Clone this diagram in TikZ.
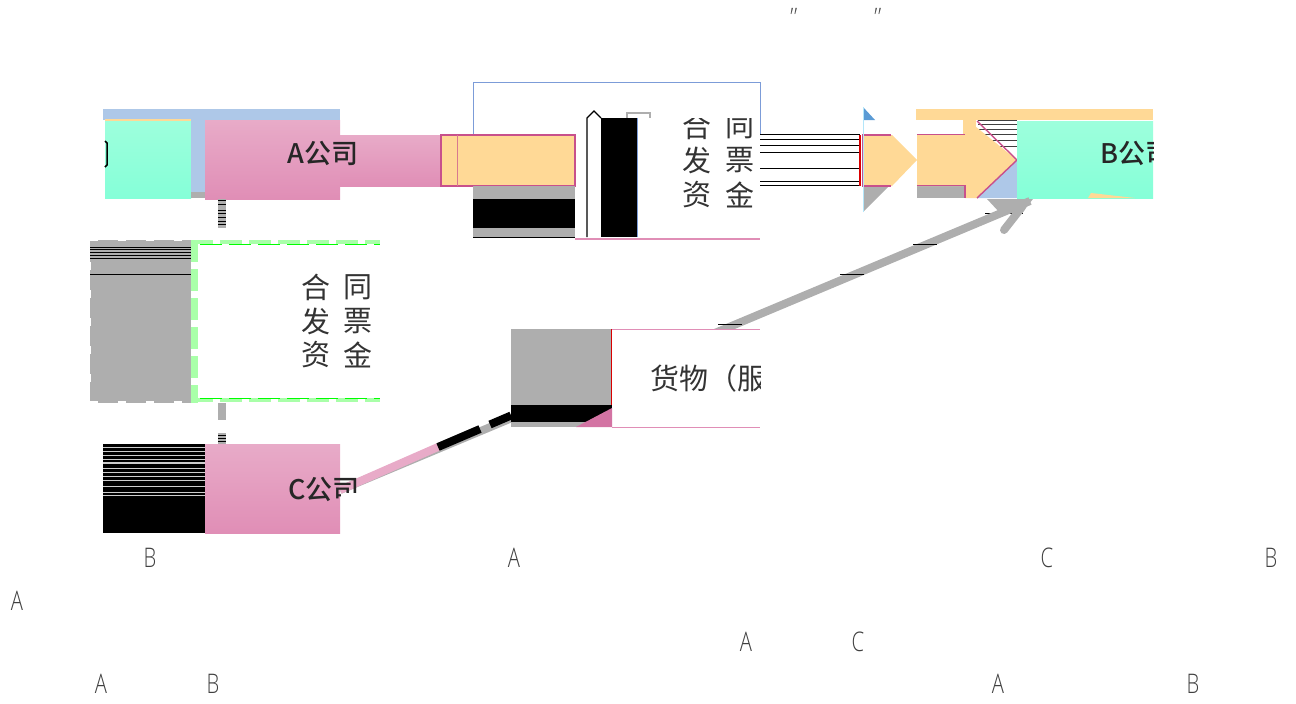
\documentclass[tikz,border=0pt]{standalone}
\usepackage{fontspec}
\setmainfont{Noto Sans CJK SC}
\newfontfamily\latinthin{Open Sans Light}
\newfontfamily\cnmedium{Noto Sans CJK SC Medium}
\definecolor{barblue}{HTML}{AEC8E8}
\definecolor{lineblue}{HTML}{7C9CD8}
\definecolor{tipblue}{HTML}{5B9BD5}
\definecolor{boxgreen}{HTML}{8CFFD6}
\definecolor{boxorange}{HTML}{FFD996}
\definecolor{pinktop}{HTML}{E8ABC8}
\definecolor{pinkbottom}{HTML}{E08EB6}
\definecolor{edgepink}{HTML}{C8508C}
\definecolor{linegrey}{HTML}{AEAEAE}
\definecolor{dashgreen}{HTML}{A9FFA9}
\tikzset{
    cnlabel/.style={font=\fontsize{29}{29}\selectfont, text=black!80, inner sep=0pt},
    cmplabel/.style={font=\cnmedium\fontsize{27}{27}\selectfont, text=black!85, inner sep=0pt},
    letter/.style={font=\latinthin\fontsize{27}{27}\selectfont, text=black!75, inner sep=0pt, xscale=.75},
    quotemark/.style={font=\latinthin\itshape\fontsize{24}{24}\selectfont, text=black!70, inner sep=0pt},
    pinkbox/.style={top color=pinktop, bottom color=pinkbottom, draw=none},
    greenbox/.style={top color=boxgreen!85!white, bottom color=boxgreen!95!cyan, draw=none}
}
\begin{document}
\begin{tikzpicture}[x=1pt,y=-1pt]
    \useasboundingbox (0,0) rectangle (1296,704);

    % company A
    \fill[barblue] (103,109) rectangle (340,120);
    \fill[boxorange] (105,119) rectangle (191,121);
    \fill[greenbox] (105,121) rectangle (191,198);
    \fill[barblue] (191,120) rectangle (205,198);
    \fill[linegrey] (191,192) rectangle (205,198);
    \fill[pinkbox] (205,120) rectangle (340,199);
    \fill[pinkbox] (340,135) rectangle (441,186);
    \node[cmplabel] (acompany) at (323,153) {A公司};
    \draw[black, line width=1.5pt] (105,141) -- (107,143) -- (107,165) -- (105,167);

    % arrow to the contract box
    \draw[lineblue, line width=1pt] (473,135) -- (473,82) -- (760,82) -- (760,135);
    \fill[boxorange, draw=edgepink, line width=1.2pt] (441,135) rectangle (575,186);
    \draw[edgepink!70!boxorange] (457,135) -- (457,186);
    \fill[linegrey] (473,186) rectangle (575,237);
    \fill[black] (473,199) rectangle (575,228);
    \draw[black, line width=1pt] (473,237.5) -- (575,237.5);

    % contract box
    \draw[pinkbottom, line width=1.2pt] (575,239) -- (760,239);
    \draw[black, line width=1.2pt] (587,237) -- (587,118) -- (594,111) -- (601,118);
    \fill[black] (601,118) rectangle (637,237);
    \draw[lineblue, line width=1pt] (637.5,118) -- (637.5,237);
    \draw[linegrey, line width=1.2pt] (627,118) -- (627,113) -- (650,113) -- (650,118);
    \begin{scope}
        \clip (660,118) rectangle (760,239);
        \node[cnlabel] (top1) at (697,126) {合};
        \node[cnlabel] (top2) at (740,126) {同};
        \node[cnlabel] (top3) at (697,160) {发};
        \node[cnlabel] (top4) at (740,160) {票};
        \node[cnlabel] (top5) at (697,195) {资};
        \node[cnlabel] (top6) at (740,195) {金};
    \end{scope}
    \foreach \y/\w in {134/.8,139/1,145/.6,152/.5,168/.7,181/1,185/.7}
        \draw[black, line width=\w pt] (760,\y) -- (860,\y);
    \draw[red!85!black, line width=1.5pt] (860,135) -- (860,186);

    % arrow head, white gap and company B
    \fill[boxorange] (863,135) -- (892,135) -- (917,160) -- (892,186) -- (863,186) -- cycle;
    \draw[edgepink, line width=1.2pt] (891,135) -- (863,135) -- (863,186) -- (891,186);
    \fill[tipblue] (863,107) -- (875,120) -- (863,120) -- cycle;
    \fill[linegrey] (863,187) -- (888,187) -- (863,212) -- cycle;
    \draw[cyan!30!white] (863.5,107) -- (863.5,212);
    \fill[boxorange] (916,109) rectangle (1153,120);
    \fill[linegrey] (917,186) rectangle (965,198);
    \fill[boxorange] (963,118) rectangle (976,134);
    \fill[barblue] (977,198) -- (1017,160) -- (1017,198) -- cycle;
    \foreach \y in {120,124,129,134,140,146}
        \draw[black!75, line width=.8pt] (978,\y) -- (1017,\y);
    \fill[boxorange] (917,134) -- (965,134) -- (965,118) -- (1017,160) -- (977,198) -- (965,198) -- (965,186) -- (917,186) -- cycle;
    \draw[edgepink, line width=1.4pt] (917,134.5) -- (965,134.5);
    \draw[edgepink, line width=1.4pt] (917,185.5) -- (965,185.5) -- (965,198);
    \draw[edgepink, line width=1.4pt] (977,121) -- (1017,160) -- (977,198);
    \fill[greenbox] (1017,121) rectangle (1153,198);
    \fill[boxorange] (1088,198) -- (1091,193) -- (1135,198) -- cycle;
    \begin{scope}
        \clip (1017,121) rectangle (1153,198);
        \node[cmplabel] (bcompany) at (1136,153) {B公司};
    \end{scope}
    \coordinate (btip) at (1030,201);
    \coordinate (bhook) at (1004,230);
    \coordinate (cstart) at (340,490);

    % dashed contract box
    \fill[linegrey] (90,240) rectangle (191,403);
    \foreach \y in {247,249,252,255,258,274}
        \draw[black, line width=.6pt] (90,\y) -- (191,\y);
    \draw[white, line width=2.5pt, dash pattern=on 8pt off 20pt] (90,240) -- (191,240);
    \draw[white, line width=2.5pt, dash pattern=on 8pt off 20pt] (90,402.5) -- (191,402.5);
    \draw[white, line width=2.5pt, dash pattern=on 8pt off 20pt] (90,262) -- (90,403);
    \draw[dashgreen, line width=7pt, dash pattern=on 22pt off 7pt] (194.5,240) -- (194.5,403);
    \draw[dashgreen, line width=4pt, dash pattern=on 22pt off 7pt] (191,242) -- (380,242);
    \draw[dashgreen, line width=4pt, dash pattern=on 22pt off 7pt] (191,400) -- (380,400);
    \draw[green, line width=1pt, dash pattern=on 22pt off 7pt] (200,244) -- (380,244);
    \draw[green, line width=1pt, dash pattern=on 22pt off 7pt] (200,398) -- (380,398);
    \node[cnlabel] (mid1) at (316,287) {合};
    \node[cnlabel] (mid2) at (358,287) {同};
    \node[cnlabel] (mid3) at (316,321) {发};
    \node[cnlabel] (mid4) at (358,321) {票};
    \node[cnlabel] (mid5) at (316,355) {资};
    \node[cnlabel] (mid6) at (358,355) {金};

    % company C
    \fill[black] (103,444) rectangle (205,533);
    \foreach \y/\w in {447/1,451/1,455/1,459/1,463/1.2,468/1,472/1,476/1,480/1,486/1,492/1,495/.8}
        \draw[linegrey!60!white, line width=\w pt] (103,\y) -- (205,\y);
    \fill[pinkbox] (205,444) rectangle (340,533);

    % grey link A - dashed box - C
    \fill[linegrey] (218,199) rectangle (226,228);
    \fill[linegrey] (218,403) rectangle (226,420);
    \fill[linegrey] (218,433) rectangle (226,444);
    \foreach \y in {200,204,210,213,217,221,224,435,438,441}
        \draw[black, line width=.8pt] (218,\y) -- (226,\y);

    % long arrow C to B
    \fill[linegrey] (987,199) -- (1033,199) -- (1022,213) -- (1000,213) -- cycle;
    \draw[black, line width=1pt] (985,213) -- (1023,213);
    \draw[linegrey, line width=8pt, line cap=round] (bhook) -- (1022,207);
    \draw[linegrey, line width=8pt] (cstart) -- (btip);
    \draw[pinktop, line width=8pt] (cstart) -- (438,447);
    \draw[black, line width=8pt] (438,447) -- (480,429);
    \draw[black, line width=8pt] (490,424.5) -- (511,415.5);
    \begin{scope}
        \clip (205,444) rectangle (340,533) (340,470) rectangle (358,492);
        \node[cmplabel] (ccompany) at (324,489) {C公司};
    \end{scope}

    % goods box
    \fill[white] (612,329) rectangle (760,427);
    \draw[pinkbottom, line width=1pt] (612,329) -- (760,329);
    \draw[pinkbottom, line width=1pt] (612,427) -- (760,427);
    \fill[linegrey] (511,329) rectangle (612,427);
    \fill[black] (511,405) rectangle (612,422);
    \fill[edgepink!80!white] (576,427) -- (612,408) -- (612,427) -- cycle;
    \draw[red!85!black, line width=.8pt] (611.5,329) -- (611.5,405);
    \begin{scope}
        \clip (612,329) rectangle (760,427);
        \node[cnlabel, anchor=west] (goods) at (650,378) {货物（服};
    \end{scope}
    \foreach \x/\y in {730/324,925/244,852/274}
        \draw[black, line width=1pt] (\x-12,\y) -- (\x+12,\y);

    % stray letters
    \node[letter] (l1) at (150,558) {B};
    \node[letter] (l2) at (514,558) {A};
    \node[letter] (l3) at (1047,558) {C};
    \node[letter] (l4) at (1271,558) {B};
    \node[letter] (l5) at (17,601) {A};
    \node[letter] (l6) at (746,642) {A};
    \node[letter] (l7) at (858,642) {C};
    \node[letter] (l8) at (101,684) {A};
    \node[letter] (l9) at (213,684) {B};
    \node[letter] (l10) at (998,684) {A};
    \node[letter] (l11) at (1193,684) {B};
    \node[quotemark] (q1) at (792,17) {"};
    \node[quotemark] (q2) at (876,17) {"};
\end{tikzpicture}
\end{document}
